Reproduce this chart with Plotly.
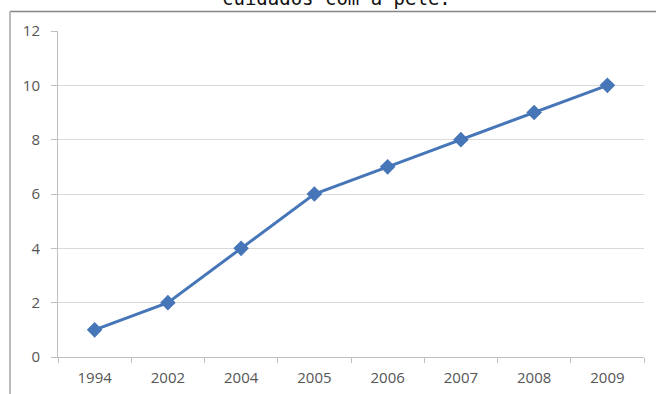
import plotly.graph_objects as go

years = ["1994", "2002", "2004", "2005", "2006", "2007", "2008", "2009"]
values = [1, 2, 4, 6, 7, 8, 9, 10]
y_ticks = [0, 2, 4, 6, 8, 10, 12]

W, H = 656, 394
ML, MR, MT, MB = 58, 12, 31, 37
PW, PH = W - ML - MR, H - MT - MB


def px_x(p):
    return (p - ML) / PW


def px_y(p):
    return (H - MB - p) / PH


fig = go.Figure()
fig.add_trace(go.Scatter(
    x=years, y=values, mode="lines+markers",
    line=dict(color="#4676B8", width=3),
    marker=dict(symbol="diamond", size=12, color="#4676B8"),
    showlegend=False,
))

label_font = dict(family="Open Sans, sans-serif", size=15, color="#555555")

fig.update_layout(
    width=W, height=H,
    margin=dict(l=ML, r=MR, t=MT, b=MB, autoexpand=False),
    paper_bgcolor="white", plot_bgcolor="white",
    font=label_font,
    xaxis=dict(
        type="category", range=[-0.5, 7.5], automargin=False,
        showline=True, linecolor="#BFBFBF", linewidth=1,
        ticks="outside", tickson="boundaries", ticklen=5, tickcolor="#BFBFBF",
        showgrid=False, zeroline=False,
        tickfont=label_font, ticklabelstandoff=7,
    ),
    yaxis=dict(
        range=[0, 12], tickvals=y_ticks, automargin=False,
        showline=True, linecolor="#BFBFBF", linewidth=1,
        ticks="outside", ticklen=6, tickcolor="#BFBFBF",
        showgrid=True, gridcolor="#D9D9D9", gridwidth=1,
        zeroline=False,
        tickfont=label_font, ticklabelstandoff=8,
    ),
    shapes=[
        dict(type="line", xref="paper", yref="paper",
             x0=px_x(10), x1=px_x(W + 5), y0=px_y(11.5), y1=px_y(11.5),
             line=dict(color="#858585", width=1.5)),
        dict(type="line", xref="paper", yref="paper",
             x0=px_x(10), x1=px_x(10), y0=px_y(11.5), y1=px_y(H + 5),
             line=dict(color="#A6A6A6", width=1.5)),
    ],
    annotations=[
        dict(text="cuidados com a pele.", xref="paper", yref="paper",
             x=px_x(336), y=px_y(11), xanchor="center", yanchor="bottom",
             showarrow=False,
             font=dict(family="DejaVu Sans Mono, monospace", size=19, color="#111111")),
    ],
)

fig.write_html("out.html")
